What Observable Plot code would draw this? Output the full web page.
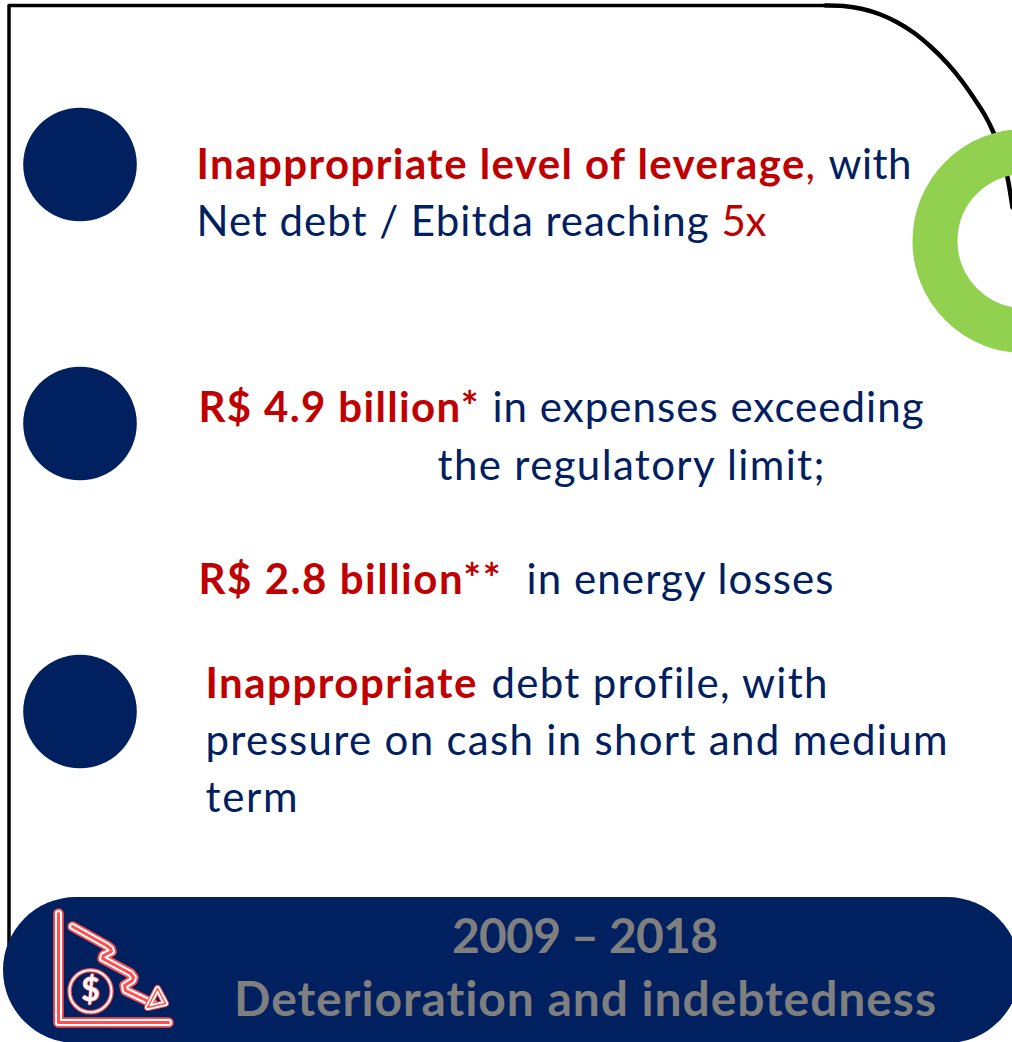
<!DOCTYPE html>
<html><head><meta charset="utf-8">
<style>html,body{margin:0;padding:0;background:#fff}svg{display:block}svg text{font-variant-ligatures:none}</style>
<script src="https://cdn.jsdelivr.net/npm/d3@7"></script>
<script src="https://cdn.jsdelivr.net/npm/@observablehq/plot@0.6"></script>
</head><body><div id="chart"></div>
<script>
const navy = "#002060", red = "#c00000", green = "#92d050", grey = "#7f7f7f", neon = "#ff4f4f";
const frame = [[8.5,950],[8.5,5],[825,5]];
const arc = [[825,5],[843,5.5],[862,8.5],[880,14],[897,22],[913,32],[930,46],[947,63],[961,80],[973,97],[984,114],[993,132],[1001,154],[1007,177],[1012,207]];
const bullets = [[79.5,164],[79.5,423],[79.5,711]];
const ring = [[1024,240.5]];
const band = [{x1:3,x2:1020,y1:897,y2:1043}];
const axisL = [[58,913],[58,1022],[168,1022]];
const trend = [[72,926],[106,945],[110,948],[111,951],[103,955],[102,958],[130,973],[133,977],[132,980],[124,985],[125,990],[152,1003]];
const head = [[157,988],[165,1003],[147,1007],[157,988]];
const coin = [[90,990.7]];
const regular = {fontFamily:"Lato",fontSize:42};
const bold = {fontFamily:"Lato",fontSize:42,fontWeight:700};
const textRuns = [
 ["Inappropriate level of leverage",196,178,red,1,608],
 [",",805,178,red,0,8],
 ["with",828,178,navy,0,83],
 ["Net debt / Ebitda reaching",196,235,navy,0,512],
 ["5x",721,235,red,0,45],
 ["R$ 4.9 billion*",198,421,red,1,280],
 ["in expenses exceeding",492,421,navy,0,431],
 ["the regulatory limit;",437,479,navy,0,387],
 ["R$ 2.8 billion**",198,593,red,1,302],
 ["in energy losses",526,593,navy,0,307],
 ["Inappropriate",205,697,red,1,271],
 ["debt profile, with",491,697,navy,0,336],
 ["pressure on cash in short and medium",205,754,navy,0,742],
 ["term",205,811,navy,0,92]
];
const footer = [["2009 – 2018",584.5,952,266],["Deterioration and indebtedness",584.5,1015,702]];
const px = d=>d[0], py = d=>d[1];
const neonLine = (pts,curve="linear",w=[10.5,7,3])=>[
  Plot.line(pts,{x:px,y:py,curve,stroke:neon,strokeWidth:w[0],strokeLinejoin:"round",strokeLinecap:"round"}),
  Plot.line(pts,{x:px,y:py,curve,stroke:"#fff",strokeWidth:w[1],strokeLinejoin:"round",strokeLinecap:"round"}),
  Plot.line(pts,{x:px,y:py,curve,stroke:neon,strokeWidth:w[2],strokeLinejoin:"round",strokeLinecap:"round"})
];
const chart = Plot.plot({
  width:1012,height:1042,margin:0,
  x:{domain:[0,1012],range:[0,1012],axis:null},
  y:{domain:[0,1042],range:[0,1042],axis:null},
  style:{background:"#fff"},
  marks:[
    Plot.line(frame,{x:px,y:py,stroke:"#000",strokeWidth:3.5}),
    Plot.line(arc,{x:px,y:py,stroke:"#000",strokeWidth:4.5,curve:"catmull-rom"}),
    Plot.dot(ring,{x:px,y:py,r:89.5,stroke:green,strokeWidth:45,fill:"none"}),
    Plot.dot(bullets,{x:px,y:py,r:56.8,fill:navy}),
    Plot.rect(band,{x1:"x1",x2:"x2",y1:"y1",y2:"y2",fill:navy,rx:73}),
    ...neonLine(axisL),
    ...neonLine(trend),
    ...neonLine(head,"linear",[7,5,1.5]),
    Plot.dot(coin,{x:px,y:py,r:21,stroke:neon,strokeWidth:4.5,fill:"none"}),
    Plot.dot(coin,{x:px,y:py,r:21,stroke:"#fff",strokeWidth:2,fill:"none"}),
    Plot.text(coin,{x:px,y:py,text:()=>"$",fill:"#fff",stroke:neon,strokeWidth:1.6,paintOrder:"stroke",fontFamily:"Lato",fontWeight:700,fontSize:32}),
    Plot.text(textRuns.filter(d=>d[4]),{x:d=>d[1],y:d=>d[2],text:d=>d[0],fill:d=>d[3],textAnchor:"start",lineAnchor:"bottom",...bold}),
    Plot.text(textRuns.filter(d=>!d[4]),{x:d=>d[1],y:d=>d[2],text:d=>d[0],fill:d=>d[3],textAnchor:"start",lineAnchor:"bottom",...regular}),
    Plot.text(footer,{x:d=>d[1],y:d=>d[2],text:d=>d[0],fill:grey,textAnchor:"middle",lineAnchor:"bottom",fontFamily:"Lato",fontWeight:700,fontSize:48})
  ]
});
const widths = new Map([...textRuns.map(d=>[d[0],d[5]]),...footer.map(d=>[d[0],d[3]])]);
chart.querySelectorAll("text").forEach(t=>{
  const w = widths.get(t.textContent);
  if (w && t.textContent !== "," ) { t.setAttribute("textLength",w); t.setAttribute("lengthAdjust","spacing"); }
});
document.getElementById("chart").appendChild(chart);
</script></body></html>
